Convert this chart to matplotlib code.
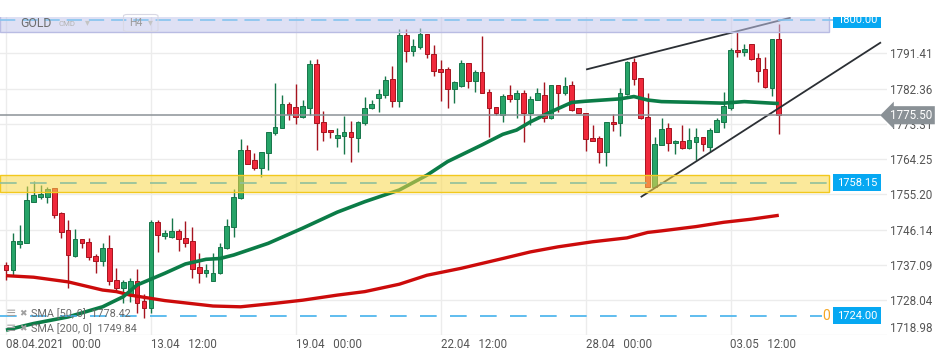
import matplotlib
matplotlib.use("Agg")
import matplotlib.pyplot as plt
from matplotlib.patches import FancyBboxPatch
import numpy as np

plt.rcParams['font.family'] = ['Roboto', 'DejaVu Sans']
plt.rcParams['lines.scale_dashes'] = False

# ---------------- data (GOLD, H4) ----------------
opens = [1737.0, 1735.7, 1742.5, 1742.7, 1753.3, 1754.6, 1754.6, 1756.7, 1750.3, 1746.0,
         1739.4, 1743.6, 1742.9, 1739.4, 1738.1, 1741.3, 1733.3, 1731.2, 1729.3, 1733.0,
         1727.8, 1725.9, 1748.0, 1744.5, 1744.3, 1745.8, 1744.0, 1743.2, 1736.4, 1735.1,
         1733.0, 1734.9, 1741.3, 1746.9, 1754.2, 1766.6, 1764.0, 1761.9, 1765.7, 1770.9,
         1772.3, 1778.3, 1777.5, 1775.0, 1777.4, 1788.6, 1773.7, 1771.7, 1769.6, 1770.2,
         1771.3, 1769.7, 1773.4, 1777.3, 1779.8, 1780.7, 1784.7, 1779.2, 1796.1, 1792.0,
         1793.0, 1796.3, 1791.1, 1787.3, 1787.4, 1782.2, 1783.1, 1788.8, 1784.4, 1786.5,
         1781.4, 1777.5, 1775.6, 1780.7, 1779.6, 1781.1, 1776.0, 1779.4, 1780.7, 1774.7,
         1783.3, 1781.1, 1783.3, 1777.3, 1776.0, 1769.6, 1769.6, 1766.0, 1773.8, 1773.4,
         1780.9, 1789.1, 1785.0, 1775.0, 1757.1, 1767.8, 1772.1, 1768.3, 1768.9, 1767.0,
         1768.7, 1769.8, 1767.4, 1771.3, 1773.8, 1777.4, 1792.3, 1791.8, 1793.7, 1790.1,
         1787.4, 1782.6, 1795.1]
highs = [1737.9, 1745.2, 1747.3, 1757.4, 1758.6, 1757.6, 1757.0, 1756.8, 1750.6, 1748.6,
         1746.4, 1743.7, 1744.0, 1739.8, 1742.7, 1744.7, 1736.2, 1733.2, 1733.6, 1735.9,
         1729.7, 1748.6, 1748.6, 1746.0, 1749.2, 1746.3, 1748.3, 1746.9, 1740.0, 1737.2,
         1740.0, 1742.6, 1748.8, 1756.5, 1769.4, 1767.9, 1765.9, 1766.1, 1771.3, 1783.7,
         1780.7, 1778.8, 1783.5, 1779.4, 1789.7, 1790.0, 1776.6, 1771.7, 1772.3, 1775.4,
         1774.0, 1774.0, 1780.1, 1779.4, 1782.2, 1785.6, 1788.1, 1797.6, 1797.6, 1795.1,
         1798.0, 1796.3, 1793.5, 1789.7, 1788.0, 1784.3, 1789.7, 1788.8, 1787.1, 1795.9,
         1782.2, 1777.7, 1780.9, 1783.3, 1782.0, 1782.0, 1780.4, 1782.6, 1784.1, 1783.3,
         1783.3, 1785.4, 1784.4, 1777.4, 1776.1, 1773.0, 1770.2, 1773.8, 1775.8, 1782.6,
         1789.4, 1790.1, 1785.1, 1781.1, 1769.8, 1774.7, 1773.4, 1769.1, 1773.0, 1772.1,
         1772.1, 1770.0, 1772.1, 1774.7, 1781.5, 1792.7, 1797.0, 1793.7, 1793.7, 1791.4,
         1790.4, 1795.1, 1798.9]
lows = [1733.2, 1734.5, 1741.5, 1742.7, 1753.2, 1754.0, 1753.0, 1749.2, 1743.9, 1731.0,
        1739.2, 1741.3, 1738.3, 1735.1, 1736.8, 1731.9, 1730.3, 1727.2, 1727.6, 1724.6,
        1723.5, 1724.6, 1740.3, 1743.7, 1744.0, 1740.6, 1741.7, 1733.8, 1732.5, 1733.9,
        1732.9, 1734.6, 1741.2, 1744.3, 1754.1, 1763.0, 1761.4, 1759.7, 1761.4, 1770.4,
        1772.2, 1774.3, 1773.2, 1774.9, 1775.6, 1766.6, 1769.0, 1769.7, 1767.4, 1765.5,
        1763.6, 1766.0, 1773.0, 1777.0, 1776.3, 1779.8, 1777.7, 1777.7, 1789.1, 1790.8,
        1792.4, 1790.3, 1785.7, 1779.2, 1777.4, 1778.7, 1782.8, 1782.6, 1781.5, 1781.1,
        1770.0, 1775.6, 1773.8, 1779.0, 1774.9, 1768.7, 1773.0, 1779.3, 1773.7, 1774.6,
        1776.3, 1780.7, 1776.6, 1776.1, 1766.4, 1768.9, 1763.3, 1762.5, 1771.5, 1770.2,
        1780.8, 1783.3, 1774.6, 1757.1, 1757.1, 1767.8, 1766.3, 1765.5, 1766.9, 1766.9,
        1764.0, 1766.3, 1766.1, 1771.2, 1772.1, 1776.8, 1790.5, 1790.8, 1789.8, 1784.1,
        1782.6, 1780.5, 1770.6]
closes = [1735.7, 1743.2, 1743.2, 1753.7, 1755.0, 1755.3, 1756.5, 1750.0, 1745.6, 1739.6,
          1743.7, 1742.6, 1739.0, 1738.1, 1741.3, 1733.0, 1731.2, 1732.6, 1733.0, 1727.4,
          1726.1, 1748.0, 1744.7, 1745.2, 1745.8, 1743.6, 1742.7, 1735.9, 1735.1, 1735.7,
          1735.1, 1741.6, 1747.1, 1754.4, 1766.6, 1763.1, 1761.9, 1766.0, 1771.1, 1772.6,
          1778.3, 1775.7, 1775.0, 1777.9, 1788.6, 1773.4, 1771.1, 1771.1, 1770.4, 1771.1,
          1769.8, 1773.7, 1777.4, 1778.3, 1780.9, 1784.5, 1779.2, 1796.1, 1792.0, 1793.3,
          1796.3, 1791.1, 1786.9, 1786.5, 1782.2, 1784.0, 1788.8, 1784.4, 1786.5, 1781.3,
          1777.3, 1776.1, 1780.5, 1779.6, 1781.1, 1776.0, 1779.6, 1781.1, 1774.7, 1783.3,
          1781.1, 1783.0, 1776.8, 1776.1, 1769.3, 1769.0, 1766.0, 1773.7, 1773.2, 1781.1,
          1789.1, 1784.8, 1774.7, 1757.1, 1768.0, 1771.9, 1768.4, 1768.9, 1767.0, 1769.1,
          1769.8, 1768.0, 1771.7, 1774.3, 1777.9, 1792.3, 1791.7, 1792.5, 1789.9, 1786.9,
          1782.7, 1795.1, 1775.5]

sma50_bar = [0, 4, 9, 14, 17, 19, 23, 26, 29, 31, 33, 38, 43, 48, 52, 57, 61, 64, 69, 72,
             74, 76, 79, 82, 84, 89, 91, 93, 95, 100, 104, 107, 112]
sma50_val = [1720.3, 1722.0, 1723.7, 1726.3, 1728.9, 1731.9, 1734.9, 1737.3, 1738.5, 1738.7,
             1739.6, 1742.6, 1746.5, 1750.6, 1753.3, 1756.3, 1760.1, 1763.6, 1767.9, 1770.6,
             1771.7, 1773.8, 1776.4, 1778.8, 1779.1, 1779.7, 1780.3, 1779.4, 1779.0, 1778.8,
             1778.6, 1779.0, 1778.5]
sma200_bar = [0, 4, 9, 14, 16, 18, 23, 30, 34, 39, 43, 48, 52, 57, 61, 66, 72, 76, 80, 85,
              90, 93, 95, 100, 104, 108, 112]
sma200_val = [1734.3, 1733.9, 1732.7, 1730.6, 1730.2, 1729.3, 1727.9, 1726.5, 1726.3, 1727.2,
              1728.0, 1729.3, 1730.2, 1732.1, 1734.4, 1736.2, 1738.7, 1740.4, 1741.7, 1743.0,
              1744.0, 1745.4, 1745.8, 1746.9, 1748.0, 1748.8, 1749.8]

upper_trend_bar = [84.2, 113.6]
upper_trend_val = [1787.3, 1800.5]
lower_trend_bar = [92.1, 126.7]
lower_trend_val = [1754.6, 1794.1]

resistance_zone = (1796.8, 1802.0)
support_zone = (1755.85, 1760.14)
level_1800 = 1800.00
level_support = 1758.15
level_1724 = 1724.00
last_price = 1775.50

ytick_vals = [1718.98, 1728.04, 1737.09, 1746.14, 1755.20, 1764.25, 1773.31, 1782.36, 1791.41]
xtick_bars = [0, 21, 42, 63, 84, 105]
xtick_labels = ["08.04.2021   00:00", "13.04   12:00", "19.04   00:00",
                "22.04   12:00", "28.04   00:00", "03.05   12:00"]
sma50_label = "SMA [50, 0]  1778.42"
sma200_label = "SMA [200, 0]  1749.84"

# ---------------- figure ----------------
W, H = 950, 361
fig = plt.figure(figsize=(W / 100, H / 100), dpi=100)
fig.patch.set_facecolor('white')

def fx(px):
    return px / W

def fy(py):
    return 1 - py / H

ax_right_px = 887
ax_top_px, ax_bot_px = 17, 335.3
ax = fig.add_axes([0, fy(ax_bot_px), ax_right_px / W, (ax_bot_px - ax_top_px) / H])
ax.set_facecolor('white')

bar_px = 6.9
ax.set_xlim((0 - 6) / bar_px, (ax_right_px - 6) / bar_px)
ax.set_ylim(1718.98, 1800.73)

for s in ax.spines.values():
    s.set_visible(False)

# grid
for v in ytick_vals:
    ax.axhline(v, color='#ececec', lw=1.0, zorder=0)
for b in xtick_bars:
    ax.axvline(b, color='#ececec', lw=1.0, zorder=0)

# candles
idx = np.arange(len(opens))
o = np.array(opens); h = np.array(highs); l = np.array(lows); c = np.array(closes)
up = c >= o
g_fill, g_edge = '#26a468', '#17764a'
r_fill, r_edge = '#f0283b', '#a5141f'
ax.vlines(idx[up], l[up], h[up], color=g_edge, lw=1.0, zorder=2)
ax.vlines(idx[~up], l[~up], h[~up], color=r_edge, lw=1.0, zorder=2)
body_lo = np.minimum(o, c)
body_h = np.maximum(np.abs(c - o), 0.25)
ax.bar(idx[up], body_h[up], bottom=body_lo[up], width=0.68, color=g_fill,
       edgecolor=g_edge, linewidth=0.7, zorder=3)
ax.bar(idx[~up], body_h[~up], bottom=body_lo[~up], width=0.68, color=r_fill,
       edgecolor=r_edge, linewidth=0.7, zorder=3)

# moving averages
ax.plot(sma200_bar, sma200_val, color='#cc0b0b', lw=2.4, zorder=4, solid_capstyle='butt')
ax.plot(sma50_bar, sma50_val, color='#0b7c47', lw=2.6, zorder=4, solid_capstyle='butt')

# trend lines
ax.plot(upper_trend_bar, upper_trend_val, color='#2b2f34', lw=1.3, zorder=5)
ax.plot(lower_trend_bar, lower_trend_val, color='#2b2f34', lw=1.3, zorder=5)

# zones (drawn over the candles, semi transparent)
zone_xmax = 829 / ax_right_px
ax.axhspan(*resistance_zone, xmin=0, xmax=zone_xmax, facecolor=(0.77, 0.78, 0.92, 0.55),
           edgecolor='#b9bce3', lw=1.0, zorder=6)
ax.axhspan(*support_zone, xmin=0, xmax=zone_xmax, facecolor=(0.976, 0.847, 0.29, 0.55),
           edgecolor='#f2c81e', lw=1.0, zorder=6)

# horizontal levels
ax.axhline(level_1800, xmin=0, xmax=833 / ax_right_px, color='#86c4ef', lw=1.2,
           dashes=(11, 5), zorder=7)
ax.axhline(level_support, xmin=0, xmax=829 / ax_right_px, color='#8fbf9c', lw=1.2,
           dashes=(12, 9.6), zorder=7)
ax.axhline(level_1724, xmin=0, xmax=822 / ax_right_px, color='#44b2ec', lw=1.2,
           dashes=(12, 9.6), zorder=7)
ax.axhline(last_price, xmin=0, xmax=880 / ax_right_px, color='#8c9297', lw=1.1, zorder=7)

# axis ticks and labels
ax.yaxis.tick_right()
ax.set_yticks(ytick_vals)
ax.set_yticklabels([f"{v:.2f}" for v in ytick_vals])
ax.tick_params(axis='y', length=0, pad=2.2, labelsize=8.4, labelcolor='#555555')
ax.get_yticklabels()[0].set_va('bottom')
ax.set_xticks(xtick_bars)
ax.set_xticklabels(xtick_labels, ha='left')
ax.tick_params(axis='x', length=0, pad=2.0, labelsize=8.3, labelcolor='#555555')

# right-side price tags
ytr = ax.get_yaxis_transform()
tag_x = 857 / ax_right_px
box = dict(boxstyle='square,pad=0.32', facecolor='#06a8f2', edgecolor='none')
ax.text(tag_x, level_1800, f"{level_1800:.2f}", transform=ytr, ha='center', va='center',
        color='white', fontsize=8, bbox=box, zorder=9, clip_on=True)
ax.text(tag_x, level_support, f"{level_support:.2f}", transform=ytr, ha='center', va='center',
        color='white', fontsize=8, bbox=box, zorder=9, clip_on=False)
ax.text(826 / ax_right_px, level_1724, "0", transform=ytr, ha='center', va='center',
        color='#f5a623', fontsize=10, zorder=8, clip_on=False)
ax.text(tag_x, level_1724, f"{level_1724:.2f}", transform=ytr, ha='center', va='center',
        color='white', fontsize=8, bbox=box, zorder=9, clip_on=False)
ax.text(890 / ax_right_px, last_price, f"{last_price:.2f}", transform=ytr, ha='left',
        va='center', color='white', fontsize=8.4,
        bbox=dict(boxstyle='larrow,pad=0.22', facecolor='#8a9196', edgecolor='none'),
        zorder=10, clip_on=False)

# top-left instrument header
fig.text(fx(20.5), fy(23.5), "GOLD", fontsize=8.8, color='#6e6e6e', va='center', ha='left',
         zorder=20)
fig.text(fx(58.5), fy(24.5), "CMD", fontsize=5.6, color='#b4b4b4', va='center', ha='left',
         zorder=20)
fig.text(fx(84.5), fy(22.5), "\u25BE", fontsize=7, color='#c4c4c4', va='center', ha='left',
         zorder=20)
fig.patches.append(FancyBboxPatch((fx(123.5), fy(31.5)), fx(158) - fx(123.5), fy(14.5) - fy(31.5),
                                  boxstyle='round,pad=0,rounding_size=0.004',
                                  transform=fig.transFigure, facecolor='none',
                                  edgecolor='#d8d8e4', lw=0.8, zorder=19))
fig.text(fx(129), fy(23.5), "H4", fontsize=7.6, color='#9a9a9a', va='center', ha='left',
         zorder=20)
fig.text(fx(147.5), fy(22.5), "\u25BE", fontsize=7, color='#c4c4c4', va='center', ha='left',
         zorder=20)

# bottom-left indicator legend
for py, lab in [(314, sma50_label), (328.3, sma200_label)]:
    fig.text(fx(6), fy(py), "\u2261", fontsize=9, color='#a0a0a0', va='center', ha='left',
             zorder=20)
    fig.text(fx(19), fy(py), "\u2716", fontsize=6.5, color='#a0a0a0', va='center', ha='left',
             zorder=20)
    fig.text(fx(31), fy(py), lab, fontsize=7.8, color='#6a6a6a', va='center', ha='left',
             zorder=20)

fig.savefig("out.png", dpi=100)
